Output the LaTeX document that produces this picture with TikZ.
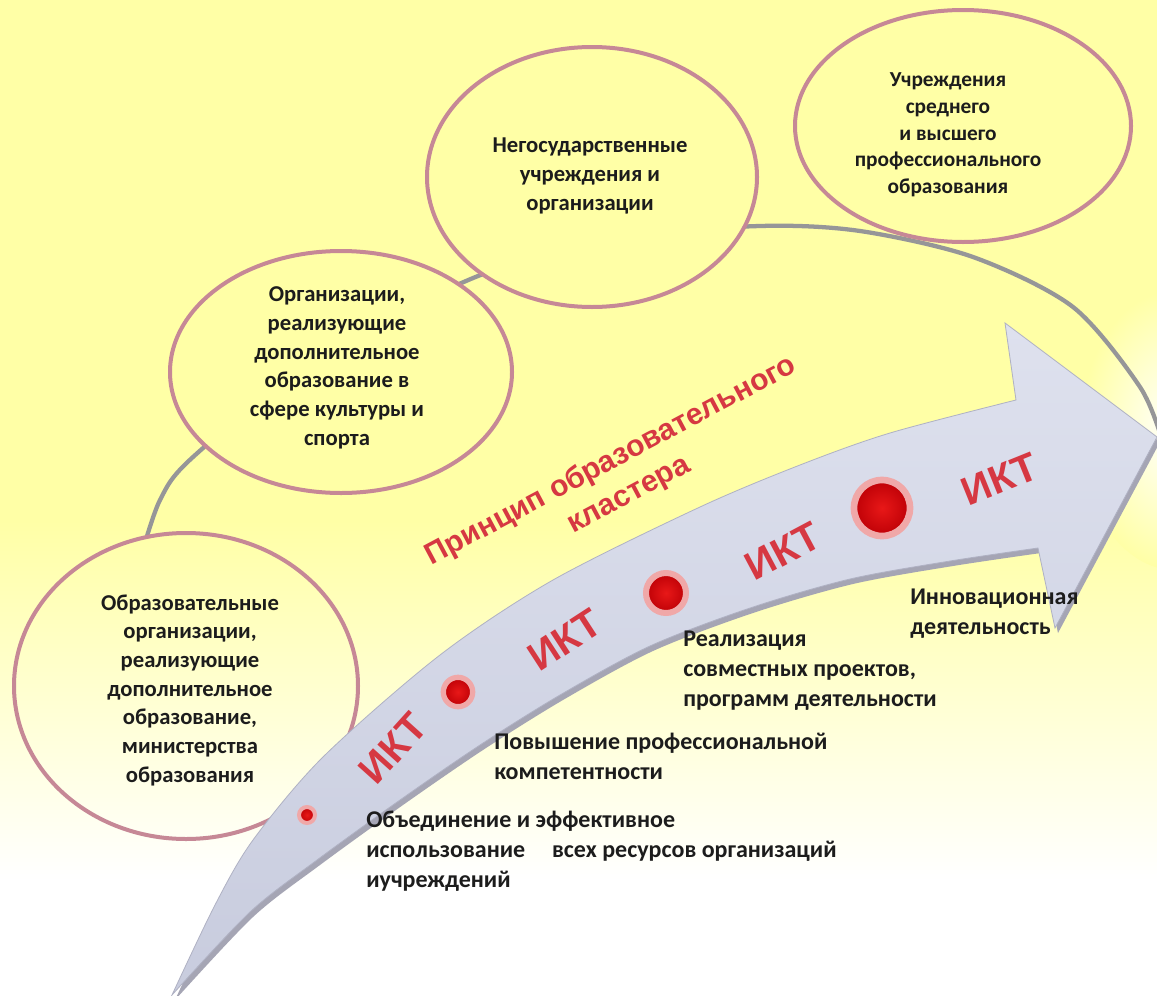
\documentclass[tikz,border=0pt]{standalone}
\usepackage{fontspec}
\setmainfont{Carlito}
\newfontfamily\redfont{Liberation Sans}
\usetikzlibrary{shapes.geometric}
\definecolor{bgY}{RGB}{255,255,166}
\definecolor{ering}{RGB}{198,136,150}
\definecolor{arcg}{RGB}{150,150,152}
\definecolor{arrowtop}{RGB}{222,225,238}
\definecolor{arrowbot}{RGB}{200,204,222}
\definecolor{arrowsh}{RGB}{165,165,180}
\definecolor{arrowedge}{RGB}{175,177,195}
\definecolor{iktred}{RGB}{214,56,66}
\definecolor{dotin}{RGB}{232,24,24}
\definecolor{dotout}{RGB}{190,0,6}
\definecolor{dotglow}{RGB}{240,168,168}
\definecolor{txt}{RGB}{28,28,28}
\newcommand\drawbg{%
  \fill[white] (0,0) rectangle (1157,996);
  \fill[bgY] (0,0) rectangle (1157,520);
  \shade[top color=bgY,bottom color=white] (0,520) rectangle (1157,880);
  \shade[inner color=white,outer color=bgY] (1175,430) ellipse [x radius=95, y radius=140];
}
\newcommand\arrowpath{(172,995) -- plot[smooth] coordinates {(172,995) (215,905) (253,840) (323,757) (440,655) (553,580) (700,507) (800,465) (890,433) (1016,400)} -- (1005,323) -- (1157,437) -- (1055,628) -- plot[smooth] coordinates {(1038,548) (950,561) (850,579) (750,608) (650,646) (560,695) (480,745) (400,800) (317,860) (250,912) (172,995)} -- cycle}
\begin{document}
\begin{tikzpicture}[x=0.75pt,y=-0.75pt,
  ell/.style={ellipse, draw=ering, line width=3pt, inner sep=0pt},
  etext/.style={font=\bfseries\fontsize{17}{21.5}\selectfont, align=center, text=txt, inner sep=0pt},
  lbl/.style={font=\bfseries\fontsize{18}{22.5}\selectfont, align=left, anchor=north west, inner sep=0pt, text=txt},
  iktstyle/.style={font=\redfont\bfseries\fontsize{30}{30}\selectfont, text=iktred, inner sep=0pt},
  titlestyle/.style={font=\redfont\bfseries\fontsize{22.5}{28.5}\selectfont, text=iktred, align=center, inner sep=0pt},
  dotstyle/.style={circle, inner sep=0pt, draw=dotglow, inner color=dotin, outer color=dotout},
]
\useasboundingbox (0,0) rectangle (1157,996);
\coordinate (c1) at (186,686);
\coordinate (c2) at (341,372);
\coordinate (c3) at (592,177);
\coordinate (c4) at (963,126);
\drawbg
% background arc
\draw[arcg, line width=3.2pt] plot[smooth] coordinates {(140,560) (160,500) (193,457) (320,355) (478,276) (610,238) (760,226) (860,231) (973,257) (1073,307) (1140,387) (1162,440)};
% hide arc inside ellipses
\begin{scope}\clip (c1) ellipse [x radius=129pt, y radius=114.75pt]; \drawbg\end{scope}
\begin{scope}\clip (c2) ellipse [x radius=128.25pt, y radius=90.75pt]; \drawbg\end{scope}
\begin{scope}\clip (c3) ellipse [x radius=123.75pt, y radius=97.5pt]; \drawbg\end{scope}
\begin{scope}\clip (c4) ellipse [x radius=126pt, y radius=87pt]; \drawbg\end{scope}
% ellipses
\node[ell, minimum width=258pt, minimum height=229.5pt] (e1) at (c1) {};
\node[ell, minimum width=256.5pt, minimum height=181.5pt] (e2) at (c2) {};
\node[ell, minimum width=247.5pt, minimum height=195pt] (e3) at (c3) {};
\node[ell, minimum width=252pt, minimum height=174pt] (e4) at (c4) {};
\node[etext] (t1) at (190,690) {Образовательные\\организации,\\реализующие\\дополнительное\\образование,\\министерства\\образования};
\node[etext] (t2) at (337,368) {Организации,\\реализующие\\дополнительное\\образование в\\сфере культуры и\\спорта};
\node[etext] (t3) at (590,176) {Негосударственные\\учреждения и\\организации};
\node[etext, font=\bfseries\fontsize{16}{20}\selectfont] (t4) at (948,135) {Учреждения\\среднего\\и высшего\\профессионального\\образования};
% arrow
\fill[arrowsh, shift={(3,5)}] \arrowpath;
\shade[top color=arrowtop, bottom color=arrowbot] \arrowpath;
\draw[arrowedge, line width=0.6pt] \arrowpath;
% dots
\node[dotstyle, minimum size=12pt, line width=3pt] (d1) at (307,815) {};
\node[dotstyle, minimum size=22pt, line width=4pt] (d2) at (458,692) {};
\node[dotstyle, minimum size=30pt, line width=4.5pt] (d3) at (666,593) {};
\node[dotstyle, minimum size=42pt, line width=5pt] (d4) at (882,508) {};
% ICT labels
\node[iktstyle, rotate=48] (k1) at (393,748) {ИКТ};
\node[iktstyle, rotate=33] (k2) at (565,640) {ИКТ};
\node[iktstyle, rotate=28] (k3) at (783,551) {ИКТ};
\node[iktstyle, rotate=22] (k4) at (1000,479) {ИКТ};
% title
\node[titlestyle, rotate=28] (title) at (620,478) {Принцип образовательного\\кластера};
% bottom labels
\node[lbl] (l1) at (366,811) {Объединение и эффективное\\использование\hspace{16pt} всех ресурсов организаций\\иучреждений};
\node[lbl] (l2) at (494,733) {Повышение профессиональной\\компетентности};
\node[lbl] (l3) at (683,631) {Реализация\\совместных проектов,\\программ деятельности};
\node[lbl] (l4) at (910,589) {Инновационная\\деятельность};
\end{tikzpicture}
\end{document}
